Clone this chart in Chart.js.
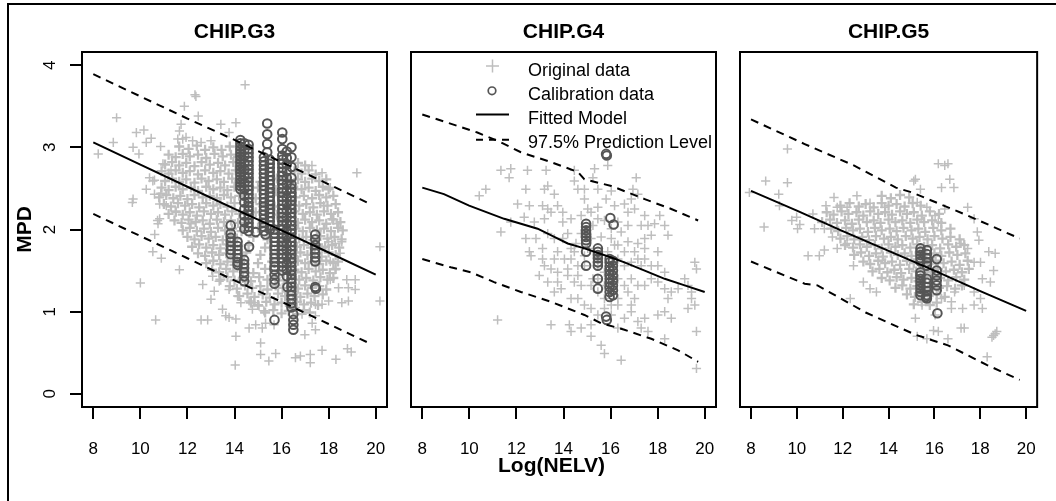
<!DOCTYPE html>
<html><head><meta charset="utf-8">
<script src="https://cdn.jsdelivr.net/npm/chart.js@4"></script>
<style>
html,body{margin:0;padding:0;background:#fff;}
#wrap{position:relative;width:1056px;height:501px;overflow:hidden;background:#fff;}
#frame{position:absolute;left:7px;top:3px;width:1100px;height:600px;border:2px solid #000;box-sizing:border-box;}
canvas{position:absolute;left:0;top:0;}
</style></head>
<body><div id="wrap"><div id="frame"></div>
<canvas id="c1" width="1056" height="501"></canvas>
<canvas id="c2" width="1056" height="501"></canvas>
<canvas id="c3" width="1056" height="501"></canvas>
</div>
<script>
// ---------- labels & ticks ----------
const panelNames = ['CHIP.G3', 'CHIP.G4', 'CHIP.G5'];
const xAxisLabel = 'Log(NELV)';
const yAxisLabel = 'MPD';
const legendLabels = ['Original data', 'Calibration data', 'Fitted Model', '97.5% Prediction Level'];
const xTicks = [8, 10, 12, 14, 16, 18, 20];
const yTicks = [0, 1, 2, 3, 4];
const xRange = [7.52, 20.48];
const yRange = [-0.16, 4.16];

// ---------- CHIP.G3 ----------
const g3OriginalSparse = [[14.45,3.76],[12.32,3.64],[12.36,3.62],[11.87,3.50],[12.46,3.38],[8.99,3.36],[9.83,3.18],[10.15,3.21],[8.85,3.06],[8.21,2.92],[9.69,3.00],[10.25,3.06],[10.46,3.11],[10.86,3.01],[9.94,2.92],[13.42,3.28],[14.06,3.30],[13.77,3.18],[13.00,3.08],[11.73,3.28],[11.66,3.20],[11.59,3.10],[11.80,3.10],[11.94,3.12],[12.22,3.08],[12.58,3.06],[17.29,2.78],[17.72,2.69],[19.20,2.69],[18.07,2.51],[17.79,2.29],[18.14,2.13],[18.35,2.07],[9.69,2.37],[9.66,2.33],[10.25,2.49],[10.39,2.63],[10.53,2.59],[10.96,2.80],[10.60,2.43],[10.82,2.31],[11.10,2.29],[11.52,2.21],[10.82,2.13],[10.75,2.07],[12.15,2.07],[10.73,2.11],[10.87,2.44],[10.60,2.60],[11.30,2.72],
[10.61,1.94],[10.53,1.73],[10.89,1.65],[11.66,1.51],[10.00,1.35],[10.65,0.90],[12.65,1.33],[13.07,1.43],[13.35,1.37],[13.14,1.25],[13.00,1.15],[13.77,1.27],[14.13,1.19],[14.27,1.11],[13.49,1.03],[13.77,0.93],[13.63,0.95],[14.06,0.91],[12.58,0.90],[12.86,0.90],[14.06,0.70],[14.62,0.80],[14.90,0.84],[15.18,0.80],[15.32,0.86],[15.11,0.62],[15.11,0.48],[15.46,0.40],[15.75,0.49],[14.03,0.35],[14.76,1.03],[15.04,1.07],[14.83,1.11],[14.62,1.13],[15.25,1.01],[15.68,0.84],[16.59,0.44],[16.80,0.46],[17.22,0.48],[17.22,0.38],[17.72,0.53],[18.31,0.42],[18.80,0.55],[18.96,0.51],[16.99,0.72],[17.44,0.78],[17.30,0.86],[17.44,0.95],[16.87,0.97],[16.59,1.05],[17.44,1.09],[17.72,1.09],[18.00,1.13],[18.56,1.11],[18.84,1.13],[18.42,1.29],[18.77,1.39],[19.13,1.39],[19.13,1.27],[18.84,1.29],[18.07,1.39],[18.28,1.51],[18.49,1.71],[18.28,1.83],[18.56,1.85],[20.18,1.79],[20.18,1.13],[18.00,1.85],[17.72,1.77],[18.07,1.61]];
const g3OriginalDense = [
[11.65,3.01],[12.05,2.98],[12.4,3.02],[12.75,2.97],[13.1,3.0],[13.45,2.97],[13.8,3.01],
[11.2,2.91],[11.5,2.88],[11.8,2.92],[12.1,2.89],[12.45,2.91],[12.8,2.87],[13.15,2.92],[13.5,2.89],[13.85,2.91],[14.15,2.88],
[11.05,2.79],[11.35,2.82],[11.65,2.78],[11.95,2.81],[12.3,2.77],[12.6,2.82],[12.95,2.79],[13.3,2.81],[13.6,2.78],[13.95,2.82],[14.3,2.79],[16.7,2.81],[17.0,2.78],
[10.9,2.71],[11.2,2.68],[11.5,2.72],[11.8,2.69],[12.1,2.71],[12.45,2.67],[12.75,2.72],[13.1,2.69],[13.4,2.71],[13.75,2.68],[14.05,2.72],[14.4,2.69],[16.55,2.71],[16.85,2.68],[17.15,2.72],[17.45,2.67],
[11.05,2.59],[11.35,2.62],[11.65,2.58],[11.95,2.61],[12.3,2.57],[12.6,2.62],[12.9,2.59],[13.25,2.61],[13.55,2.58],[13.9,2.62],[14.2,2.59],[14.6,2.61],[15.1,2.58],[15.8,2.62],[16.3,2.59],[16.7,2.61],[17.0,2.58],[17.3,2.62],[17.6,2.59],[17.9,2.61],
[10.9,2.51],[11.2,2.48],[11.5,2.52],[11.8,2.49],[12.15,2.51],[12.45,2.47],[12.8,2.52],[13.1,2.49],[13.4,2.51],[13.7,2.48],[14.0,2.52],[14.35,2.49],[15.0,2.51],[15.75,2.48],[16.5,2.52],[16.85,2.49],[17.15,2.51],[17.45,2.47],[17.75,2.52],[18.0,2.49],
[10.8,2.39],[11.1,2.42],[11.4,2.38],[11.7,2.41],[12.0,2.37],[12.3,2.42],[12.65,2.39],[12.95,2.41],[13.25,2.38],[13.55,2.42],[13.85,2.39],[14.2,2.41],[14.9,2.38],[15.85,2.42],[16.6,2.39],[16.95,2.41],[17.3,2.38],[17.6,2.42],[17.9,2.39],[18.2,2.41],
[11.0,2.31],[11.3,2.28],[11.6,2.32],[11.9,2.29],[12.2,2.31],[12.5,2.27],[12.8,2.32],[13.1,2.29],[13.4,2.31],[13.7,2.28],[14.0,2.32],[14.5,2.29],[15.1,2.31],[15.7,2.28],[16.4,2.32],[16.75,2.29],[17.05,2.31],[17.35,2.27],[17.65,2.32],[17.95,2.29],[18.3,2.31],
[11.2,2.19],[11.5,2.22],[11.8,2.18],[12.1,2.21],[12.4,2.17],[12.7,2.22],[13.0,2.19],[13.3,2.21],[13.6,2.18],[13.9,2.22],[14.2,2.19],[14.9,2.21],[15.8,2.18],[16.55,2.22],[16.9,2.19],[17.2,2.21],[17.5,2.18],[17.8,2.22],[18.1,2.19],[18.4,2.21],
[11.45,2.11],[11.75,2.08],[12.05,2.12],[12.35,2.09],[12.65,2.11],[12.95,2.07],[13.25,2.12],[13.55,2.09],[13.85,2.11],[14.15,2.08],[14.6,2.12],[15.2,2.09],[16.0,2.11],[16.7,2.08],[17.0,2.12],[17.3,2.09],[17.6,2.11],[17.9,2.07],[18.2,2.12],[18.5,2.09],
[11.8,1.99],[12.1,2.02],[12.4,1.98],[12.7,2.01],[13.0,1.97],[13.3,2.02],[13.6,1.99],[13.9,2.01],[14.3,1.98],[15.0,2.02],[15.8,1.99],[16.6,2.01],[16.9,1.98],[17.2,2.02],[17.5,1.99],[17.8,2.01],[18.1,1.98],[18.4,2.02],[18.6,1.99],
[12.0,1.91],[12.3,1.88],[12.6,1.92],[12.9,1.89],[13.2,1.91],[13.5,1.87],[13.8,1.92],[14.1,1.89],[14.8,1.91],[15.4,1.88],[16.2,1.92],[16.75,1.89],[17.05,1.91],[17.35,1.87],[17.65,1.92],[17.95,1.89],[18.25,1.91],[18.55,1.88],
[12.2,1.79],[12.5,1.82],[12.8,1.78],[13.1,1.81],[13.4,1.77],[13.7,1.82],[14.0,1.79],[14.6,1.81],[15.3,1.78],[16.0,1.82],[16.65,1.79],[16.95,1.81],[17.25,1.78],[17.55,1.82],[17.85,1.79],[18.15,1.81],[18.45,1.78],
[12.45,1.71],[12.75,1.68],[13.05,1.72],[13.35,1.69],[13.65,1.71],[13.95,1.67],[14.5,1.72],[15.1,1.69],[15.8,1.71],[16.5,1.68],[16.8,1.72],[17.1,1.69],[17.4,1.71],[17.7,1.67],[18.0,1.72],[18.3,1.69],
[12.8,1.59],[13.1,1.62],[13.4,1.58],[13.7,1.61],[14.0,1.57],[14.4,1.62],[15.0,1.59],[15.6,1.61],[16.3,1.58],[16.7,1.62],[17.0,1.59],[17.3,1.61],[17.6,1.58],[17.9,1.62],[18.2,1.59],[18.4,1.61],
[13.05,1.51],[13.35,1.48],[13.65,1.52],[13.95,1.49],[14.3,1.51],[14.8,1.47],[15.3,1.52],[15.9,1.49],[16.55,1.51],[16.85,1.48],[17.15,1.52],[17.45,1.49],[17.75,1.51],[18.05,1.47],[18.3,1.52],
[13.4,1.39],[13.7,1.42],[14.0,1.38],[14.35,1.41],[14.7,1.37],[15.05,1.42],[15.4,1.39],[15.75,1.41],[16.1,1.38],[16.45,1.42],[16.75,1.39],[17.05,1.41],[17.35,1.38],[17.65,1.42],[17.95,1.39],[18.2,1.41],
[13.8,1.31],[14.1,1.28],[14.45,1.32],[14.75,1.29],[15.1,1.31],[15.4,1.27],[15.75,1.32],[16.05,1.29],[16.4,1.31],[16.7,1.28],[17.0,1.32],[17.3,1.29],[17.6,1.31],[17.9,1.27],
[14.2,1.19],[14.55,1.22],[14.85,1.18],[15.2,1.21],[15.5,1.17],[15.85,1.22],[16.15,1.19],[16.5,1.21],[16.8,1.18],[17.1,1.22],[17.4,1.19],[17.75,1.21],
[14.7,1.11],[15.0,1.08],[15.35,1.12],[15.7,1.09],[16.0,1.11],[16.35,1.07],[16.65,1.12],[16.95,1.09],[17.25,1.11],[17.55,1.08],
[15.3,0.99],[15.65,1.02],[16.0,0.98],[16.3,1.01],[16.65,0.97],[16.95,1.02],[17.2,0.99]];
const g3Calibration = [
[14.25,3.09],[14.25,3.05],[14.25,3.01],[14.25,2.97],[14.25,2.93],[14.25,2.89],[14.25,2.85],[14.25,2.81],[14.25,2.77],[14.25,2.73],[14.25,2.69],[14.25,2.65],[14.25,2.61],[14.25,2.57],[14.25,2.53],[14.25,2.49],
[14.42,3.05],[14.42,2.97],[14.42,2.89],[14.42,2.81],[14.42,2.73],[14.42,2.65],[14.42,2.57],[14.42,2.49],[14.42,2.41],[14.42,2.33],[14.42,2.25],[14.42,2.17],[14.42,2.09],[14.42,2.01],
[14.6,3.03],[14.6,2.98],[14.6,2.93],[14.6,2.88],[14.6,2.83],[14.6,2.78],[14.6,2.73],[14.6,2.68],[14.6,2.63],[14.6,2.58],[14.6,2.53],[14.6,2.48],[14.6,2.43],[14.6,2.38],[14.6,2.33],[14.6,2.28],[14.6,2.23],[14.6,2.18],[14.6,2.13],[14.6,2.08],[14.6,2.03],[14.6,1.98],
[13.84,2.05],[13.84,1.95],[13.84,1.90],[13.84,1.85],[13.84,1.80],[13.84,1.75],[13.84,1.70],
[14.13,1.85],[14.13,1.80],[14.13,1.75],[14.13,1.70],[14.13,1.65],[14.13,1.60],[14.13,1.57],
[14.41,1.63],[14.41,1.58],[14.41,1.53],[14.41,1.48],[14.41,1.43],[14.41,1.37],
[14.62,1.79],[14.90,1.97],[15.32,1.94],
[15.39,3.29],[15.39,3.16],[15.39,3.04],[15.39,2.94],
[15.25,2.88],[15.25,2.83],[15.25,2.78],[15.25,2.73],[15.25,2.68],[15.25,2.63],[15.25,2.58],[15.25,2.53],[15.25,2.48],[15.25,2.43],[15.25,2.38],[15.25,2.33],[15.25,2.28],[15.25,2.23],[15.25,2.18],[15.25,2.13],[15.25,2.08],[15.25,2.03],[15.25,1.98],
[15.5,2.85],[15.5,2.80],[15.5,2.75],[15.5,2.70],[15.5,2.65],[15.5,2.60],[15.5,2.55],[15.5,2.50],[15.5,2.45],[15.5,2.40],[15.5,2.35],[15.5,2.30],[15.5,2.25],[15.5,2.20],[15.5,2.15],[15.5,2.10],[15.5,2.05],[15.5,2.00],
[15.7,2.0],[15.7,1.95],[15.7,1.9],[15.7,1.85],[15.7,1.8],[15.7,1.75],[15.7,1.7],[15.7,1.65],[15.7,1.6],[15.7,1.55],[15.7,1.51],[15.7,1.45],[15.7,1.39],[15.7,1.34],[15.70,0.90],
[16.03,3.18],[16.03,3.10],[16.03,2.98],[16.03,2.90],[16.03,2.85],[16.03,2.80],[16.03,2.75],[16.03,2.70],[16.03,2.65],[16.03,2.60],[16.03,2.55],[16.03,2.50],[16.03,2.45],[16.03,2.40],[16.03,2.35],[16.03,2.30],[16.03,2.25],[16.03,2.20],[16.03,2.15],[16.03,2.10],[16.03,2.05],[16.03,2.00],[16.03,1.95],[16.03,1.90],[16.03,1.85],[16.03,1.80],[16.03,1.75],[16.03,1.70],[16.03,1.65],[16.03,1.60],[16.03,1.55],[16.03,1.50],
[16.22,2.95],[16.22,2.87],[16.22,2.79],[16.22,2.71],[16.22,2.63],[16.22,2.55],[16.22,2.47],[16.22,2.39],[16.22,2.31],[16.22,2.23],[16.22,2.15],[16.22,2.07],[16.22,1.99],[16.22,1.91],[16.22,1.83],[16.22,1.75],[16.22,1.67],[16.22,1.59],[16.22,1.51],[16.22,1.43],
[16.42,3.00],[16.42,2.88],[16.42,2.76],[16.42,2.63],[16.42,2.55],[16.42,2.50],[16.42,2.45],[16.42,2.40],[16.42,2.35],[16.42,2.30],[16.42,2.25],[16.42,2.20],[16.42,2.15],[16.42,2.10],[16.42,2.05],[16.42,2.00],[16.42,1.95],[16.42,1.90],[16.42,1.85],[16.42,1.80],[16.42,1.75],[16.42,1.70],[16.42,1.65],[16.42,1.60],[16.42,1.55],[16.42,1.50],[16.42,1.45],[16.42,1.40],[16.42,1.35],[16.42,1.30],[16.42,1.25],[16.42,1.20],[16.42,1.15],[16.42,1.10],[16.42,1.05],
[16.5,0.97],[16.5,0.90],[16.5,0.84],[16.5,0.78],
[16.25,1.3],
[17.43,1.94],[17.43,1.88],[17.43,1.81],[17.43,1.76],[17.43,1.71],[17.43,1.66],[17.43,1.61],[17.43,1.30],[17.46,1.28]];
const g3Fit = [[8,3.06],[10,2.79],[12,2.52],[14,2.25],[16,1.99],[18,1.72],[20,1.45]];
const g3Upper = [[8,3.89],[10,3.62],[12,3.35],[14,3.09],[16,2.82],[18,2.55],[19.7,2.32]];
const g3Lower = [[8,2.19],[10,1.92],[12,1.65],[14,1.38],[16,1.12],[18,0.85],[19.7,0.62]];

// ---------- CHIP.G4 ----------
const g4Original = [[11.34,2.72],[11.76,2.74],[11.69,2.63],[12.47,2.72],[13.26,2.72],[14.46,2.72],[15.32,2.74],[15.25,2.63],[15.88,2.78],[17.09,2.63],
[10.42,2.41],[10.70,2.49],[12.40,2.49],[13.19,2.49],[13.33,2.53],[13.61,2.43],[14.46,2.59],[14.61,2.49],[14.89,2.49],[15.46,2.49],
[16.03,2.47],[16.95,2.49],[17.16,2.43],[16.88,2.37],[12.05,2.31],[12.55,2.29],[13.11,2.29],[13.33,2.25],[13.75,2.29],[13.97,2.21],
[14.89,2.37],[15.03,2.25],[15.46,2.27],[15.81,2.37],[16.17,2.29],[16.59,2.31],[17.02,2.25],[17.45,2.17],[18.09,2.17],[18.30,2.05],
[18.44,1.93],[17.87,2.07],[16.74,2.21],[11.34,1.97],[11.76,2.09],[12.33,2.15],[12.76,2.09],[13.19,2.13],[13.47,2.21],[13.97,2.09],
[14.32,2.13],[14.75,2.17],[15.25,2.05],[15.74,2.11],[16.31,2.09],[17.30,2.05],[17.59,2.05],[17.73,1.93],[12.83,1.89],[13.11,1.77],
[12.55,1.73],[12.40,1.89],[13.33,1.95],[13.61,1.89],[13.97,1.89],[14.18,1.95],[14.32,1.77],[14.53,1.83],[15.17,1.89],[15.60,1.91],
[16.03,1.89],[16.31,1.81],[16.74,1.85],[17.16,1.83],[17.45,1.77],[18.01,1.73],[17.45,1.64],[17.30,1.56],[16.88,1.60],[16.59,1.73],
[16.31,1.64],[12.62,1.68],[13.11,1.64],[13.61,1.64],[14.04,1.64],[14.46,1.73],[13.19,1.56],[13.47,1.52],[13.75,1.48],[14.18,1.52],
[14.61,1.56],[14.89,1.56],[12.97,1.44],[13.33,1.36],[13.75,1.36],[14.18,1.44],[14.46,1.36],[14.75,1.32],[15.17,1.32],[15.25,1.40],
[15.74,1.48],[15.46,1.24],[15.74,1.16],[16.03,1.08],[16.31,1.16],[16.74,1.24],[17.02,1.16],[17.16,1.32],[17.45,1.32],[17.73,1.40],
[18.01,1.36],[18.30,1.28],[18.44,1.16],[18.58,1.24],[18.87,1.28],[19.15,1.40],[19.29,1.32],[19.58,1.60],[19.65,1.52],[19.44,1.24],
[19.44,1.16],[19.29,1.04],[19.58,1.08],[13.61,1.24],[13.90,1.28],[14.32,1.16],[14.61,1.16],[14.89,1.08],[15.17,1.04],[15.46,0.96],
[16.03,0.96],[16.59,0.92],[16.88,1.00],[17.16,0.88],[17.45,0.92],[17.30,0.80],[16.31,0.80],[18.01,0.96],[18.30,1.00],[18.58,0.92],
[13.47,0.84],[14.25,0.84],[14.32,0.76],[14.75,0.80],[15.17,0.84],[15.17,0.70],[15.60,0.59],[15.74,0.49],[16.45,0.41],[17.59,0.76],
[18.30,0.67],[19.65,0.76],[19.65,0.31],[11.20,0.90],
[14.75,1.95],[15.03,1.77],[15.46,1.56],[15.88,1.73],[16.17,1.81],[16.59,1.56],[16.88,1.40],[16.31,1.40],[16.03,1.32],[16.59,1.32],[17.45,1.89],[17.16,1.64],[17.02,1.73],[17.73,1.56],[18.01,1.56],[18.30,1.48],[15.46,2.13],[15.17,2.21],[16.03,2.01],[16.45,1.97],[16.74,2.05],[14.32,1.64],[13.75,1.73],[14.89,1.68],[14.61,1.44],[15.46,1.40],[15.74,1.32],[16.31,1.08],[15.74,1.04],[16.88,1.08]];
const g4Calibration = [
[14.96,2.07],[14.96,2.03],[14.96,1.99],[14.96,1.95],[14.96,1.91],[14.96,1.87],[14.96,1.83],[14.96,1.73],[14.96,1.56],
[15.46,1.77],[15.46,1.73],[15.46,1.69],[15.46,1.65],[15.46,1.60],[15.46,1.56],[15.46,1.40],[15.46,1.28],
[15.96,1.64],[15.96,1.60],[15.96,1.55],[15.96,1.50],[15.96,1.45],[15.96,1.40],[15.96,1.35],[15.96,1.30],[15.96,1.24],[15.96,1.18],
[16.10,1.62],[16.10,1.56],[16.10,1.50],[16.10,1.44],[16.10,1.38],[16.10,1.32],[16.10,1.26],[16.10,1.20],
[15.81,2.92],[15.84,2.90],[15.99,2.14],[16.13,2.06],[15.81,0.94],[15.84,0.90]];
const g4Fit = [[8,2.51],[8.92,2.43],[9.99,2.29],[11.48,2.13],[12.90,2.01],[13.61,1.91],[14.18,1.83],[14.89,1.77],[16.03,1.66],[16.59,1.60],[17.45,1.50],[18.30,1.40],[19.15,1.32],[20,1.24]];
const g4Upper = [[8,3.40],[9.07,3.30],[10.34,3.18],[11.2,3.08],[12.19,2.94],[13.47,2.82],[14.61,2.70],[14.89,2.61],[16.03,2.53],[17.45,2.37],[18.58,2.25],[19.72,2.11]];
const g4Lower = [[8,1.64],[9.21,1.54],[10.06,1.48],[11.05,1.36],[12.19,1.24],[13.47,1.12],[14.89,0.96],[15.6,0.86],[16.59,0.78],[17.73,0.67],[18.87,0.53],[19.72,0.39]];

// ---------- CHIP.G5 ----------
const g5OriginalSparse = [[9.59,2.98],[8.64,2.59],[9.59,2.57],[7.93,2.45],[9.21,2.43],[9.24,2.29],[8.57,2.03],[9.99,2.15],[9.78,2.11],[10.13,2.06],[10.03,2.01],[10.49,1.68],[10.98,1.68],[11.62,2.39],[12.62,2.41],[13.19,2.32],[13.83,2.27],[10.70,2.19],[11.27,2.29],[11.76,2.27],[12.19,2.27],[10.77,2.01],[11.20,2.01],[11.55,1.91],[11.20,1.75],[11.76,1.77],[12.19,1.83],[12.47,1.56],[12.90,1.36],[12.33,1.16],[13.19,1.28],[13.47,1.24],[15.17,2.61],[15.10,2.59],[15.39,2.49],[16.31,2.51],[16.17,2.80],[16.59,2.80],[16.45,2.78],[16.67,2.61],[16.85,2.51],[15.25,2.33],[15.67,2.27],[16.03,2.17],[16.17,2.09],[16.45,2.25],[17.45,2.27],[17.87,1.97],[17.94,1.87],[17.73,2.13],[18.37,1.73],[18.65,1.71],[18.58,1.50],[18.44,1.36],[17.16,1.83],[17.45,1.77],[17.73,1.60],[18.01,1.60],[18.09,1.40],[17.73,1.24],[18.01,1.16],[17.73,1.08],[18.09,1.04],[17.23,1.04],[16.74,1.04],[17.16,0.80],[17.30,0.80],[16.59,0.67],[15.96,0.77],[15.25,0.70],[15.67,0.67],[16.17,0.76],[18.30,0.45],[18.58,0.71],[18.65,0.73],[18.51,0.69],[18.72,0.76],[15.17,0.92],[16.03,0.96],[15.46,1.08],[16.31,1.16],[16.74,1.12],[16.88,1.24],[17.30,1.32]];
const g5OriginalDense = [
[13.7,2.41],[14.1,2.38],[14.5,2.42],[14.9,2.39],
[11.9,2.29],[12.3,2.32],[12.7,2.28],[13.0,2.31],[13.35,2.27],[13.7,2.32],[14.0,2.29],[14.35,2.31],[14.7,2.28],[15.05,2.32],[15.4,2.29],
[11.3,2.21],[11.6,2.18],[11.95,2.22],[12.25,2.19],[12.6,2.21],[12.9,2.17],[13.2,2.22],[13.55,2.19],[13.85,2.21],[14.15,2.18],[14.5,2.22],[14.8,2.19],[15.1,2.21],[15.45,2.17],[15.8,2.22],[16.2,2.19],
[11.1,2.09],[11.45,2.12],[11.75,2.08],[12.1,2.11],[12.4,2.07],[12.7,2.12],[13.05,2.09],[13.35,2.11],[13.65,2.08],[14.0,2.12],[14.3,2.09],[14.6,2.11],[14.95,2.08],[15.25,2.12],[15.55,2.09],[15.9,2.11],[16.3,2.08],
[11.5,2.01],[11.8,1.98],[12.15,2.02],[12.45,1.99],[12.75,2.01],[13.1,1.97],[13.4,2.02],[13.7,1.99],[14.05,2.01],[14.35,1.98],[14.65,2.02],[15.0,1.99],[15.3,2.01],[15.6,1.97],[15.95,2.02],[16.3,1.99],[16.7,2.01],
[11.9,1.89],[12.2,1.92],[12.5,1.88],[12.85,1.91],[13.15,1.87],[13.45,1.92],[13.8,1.89],[14.1,1.91],[14.4,1.88],[14.75,1.92],[15.05,1.89],[15.35,1.91],[15.7,1.88],[16.0,1.92],[16.35,1.89],[16.7,1.91],[17.1,1.88],
[12.1,1.81],[12.45,1.78],[12.75,1.82],[13.05,1.79],[13.4,1.81],[13.7,1.77],[14.0,1.82],[14.3,1.79],[14.6,1.81],[14.95,1.78],[15.25,1.82],[15.55,1.79],[15.9,1.81],[16.25,1.77],[16.6,1.82],[16.95,1.79],[17.3,1.81],
[12.5,1.69],[12.8,1.72],[13.15,1.68],[13.45,1.71],[13.75,1.67],[14.1,1.72],[14.4,1.69],[14.7,1.71],[15.0,1.68],[15.35,1.72],[15.65,1.69],[16.0,1.71],[16.3,1.68],[16.65,1.72],[17.0,1.69],[17.35,1.71],
[12.9,1.61],[13.2,1.58],[13.55,1.62],[13.85,1.59],[14.15,1.61],[14.5,1.57],[14.8,1.62],[15.1,1.59],[15.45,1.61],[15.75,1.58],[16.05,1.62],[16.4,1.59],[16.75,1.61],[17.1,1.57],[17.45,1.62],
[13.3,1.49],[13.6,1.52],[13.95,1.48],[14.25,1.51],[14.55,1.47],[14.9,1.52],[15.2,1.49],[15.5,1.51],[15.85,1.48],[16.15,1.52],[16.5,1.49],[16.85,1.51],[17.2,1.48],[17.5,1.52],
[13.7,1.41],[14.05,1.38],[14.35,1.42],[14.65,1.39],[15.0,1.41],[15.3,1.37],[15.6,1.42],[15.95,1.39],[16.25,1.41],[16.6,1.38],[16.95,1.42],[17.3,1.39],
[14.3,1.29],[14.6,1.32],[14.95,1.28],[15.25,1.31],[15.55,1.27],[15.9,1.32],[16.2,1.29],[16.55,1.31],[16.9,1.28],[17.2,1.32],
[14.8,1.21],[15.15,1.18],[15.45,1.22],[15.75,1.19],[16.1,1.21],[16.45,1.18],
[15.1,1.09],[15.45,1.12],[15.8,1.08],[16.1,1.11]];
const g5Calibration = [
[15.39,1.77],[15.39,1.73],[15.39,1.69],[15.39,1.65],[15.39,1.61],[15.39,1.48],[15.39,1.44],[15.39,1.40],[15.39,1.36],[15.39,1.32],[15.39,1.28],[15.39,1.24],[15.39,1.20],
[15.67,1.75],[15.67,1.70],[15.67,1.65],[15.67,1.60],[15.67,1.56],[15.67,1.40],[15.67,1.35],[15.67,1.30],[15.67,1.25],[15.67,1.20],[15.67,1.16],
[16.10,1.64],[16.10,1.50],[16.10,1.44],[16.10,1.38],[16.10,1.32],[16.10,1.26],
[16.13,0.98],[15.63,1.18]];
const g5Fit = [[8,2.47],[10,2.23],[12,1.98],[14,1.74],[16,1.50],[18,1.25],[20,1.01]];
const g5Upper = [[8,3.34],[10.34,3.04],[12.48,2.78],[14.32,2.51],[15.03,2.45],[17.45,2.17],[19.72,1.89]];
const g5Lower = [[8,1.61],[10.34,1.34],[10.9,1.32],[13,0.99],[15.17,0.72],[16.59,0.59],[18.3,0.35],[19.72,0.17]];

// ---------- styling ----------
const FONT = '"Liberation Sans", Arial, Helvetica, sans-serif';
const origColor = '#bebebe';
const calColor = '#555555';
Chart.defaults.font.family = FONT;
Chart.defaults.color = '#000';

const toXY = a => a.map(p => ({x: p[0], y: p[1]}));

function drawLegend(ctx) {
  ctx.save();
  const base = [75.7, 99.8, 123.9, 148];
  ctx.font = '18px ' + FONT;
  ctx.fillStyle = '#000';
  ctx.textAlign = 'left';
  ctx.textBaseline = 'alphabetic';
  legendLabels.forEach((t, i) => ctx.fillText(t, 528, base[i]));
  ctx.strokeStyle = origColor; ctx.lineWidth = 1.5;
  ctx.beginPath(); ctx.moveTo(486, 66); ctx.lineTo(499, 66); ctx.moveTo(492.5, 59.5); ctx.lineTo(492.5, 72.5); ctx.stroke();
  ctx.strokeStyle = calColor; ctx.lineWidth = 1.7;
  ctx.beginPath(); ctx.arc(492, 90.8, 3.8, 0, Math.PI * 2); ctx.stroke();
  ctx.strokeStyle = '#000'; ctx.lineWidth = 2;
  ctx.beginPath(); ctx.moveTo(476, 114.5); ctx.lineTo(509, 114.5); ctx.stroke();
  ctx.setLineDash([7, 6]);
  ctx.beginPath(); ctx.moveTo(476, 139.7); ctx.lineTo(509, 139.7); ctx.stroke();
  ctx.restore();
}

const decorPlugin = {
  id: 'decor',
  beforeDatasetsDraw(chart, args, o) { if (o.legend) drawLegend(chart.ctx); },
  afterDatasetsDraw(chart, args, o) {
    const {ctx, chartArea: a} = chart;
    ctx.save();
    ctx.strokeStyle = '#000'; ctx.lineWidth = 2; ctx.setLineDash([]);
    ctx.strokeRect(a.left, a.top, a.right - a.left, a.bottom - a.top);
    ctx.font = 'bold 21px ' + FONT; ctx.fillStyle = '#000';
    ctx.textAlign = 'center'; ctx.textBaseline = 'middle';
    ctx.fillText(o.title, (a.left + a.right) / 2, 32);
    if (o.xlabel) ctx.fillText(o.xlabel, 551.5, 466);
    ctx.restore();
  }
};

function lineDs(pts, dash) {
  return {data: toXY(pts), showLine: true, borderColor: '#000', borderWidth: 2, borderDash: dash, pointRadius: 0, order: 0, clip: 0, tension: 0};
}

function makeDatasets(sparse, dense, cal, fit, up, lo) {
  return [
    lineDs(fit, []), lineDs(up, [8, 6]), lineDs(lo, [8, 6]),
    {data: toXY(cal), pointStyle: 'circle', pointRadius: 4.3, borderColor: calColor, backgroundColor: 'rgba(0,0,0,0)', borderWidth: 2, order: 1, clip: 0},
    {data: toXY(sparse), pointStyle: 'cross', pointRadius: 4.6, borderColor: origColor, backgroundColor: origColor, borderWidth: 1.5, order: 2, clip: 0},
    {data: toXY(dense), pointStyle: 'cross', pointRadius: 5, borderColor: origColor, backgroundColor: origColor, borderWidth: 2.3, order: 3, clip: 0}
  ];
}

function makeScales(showY) {
  const grid = {drawOnChartArea: false, drawTicks: true, tickLength: 12, color: '#000', lineWidth: 2};
  const y = {type: 'linear', display: showY, bounds: 'data', min: yRange[0], max: yRange[1],
      afterBuildTicks: s => { s.ticks = yTicks.map(v => ({value: v})); },
      ticks: {font: {size: 17}, color: '#000', padding: 15, minRotation: 90, maxRotation: 90, crossAlign: 'center', autoSkip: false},
      grid: grid, border: {display: false},
      title: {display: true, text: yAxisLabel, font: {size: 21, weight: 'bold'}, color: '#000', padding: {top: 12.4, bottom: 0}}};
  if (showY) y.afterFit = s => { s.width = 82; };
  return {
    x: {type: 'linear', bounds: 'data', min: xRange[0], max: xRange[1],
      afterBuildTicks: s => { s.ticks = xTicks.map(v => ({value: v})); },
      afterFit: s => { s.height = 94; },
      ticks: {font: {size: 17}, color: '#000', padding: 20, autoSkip: false, maxRotation: 0},
      grid: grid, border: {display: false}},
    y: y
  };
}

function makePanel(id, idx, pad, datasets, extra) {
  new Chart(document.getElementById(id), {
    type: 'scatter',
    data: {datasets: datasets},
    plugins: [decorPlugin],
    options: {
      responsive: false, animation: false, devicePixelRatio: 1, events: [],
      layout: {padding: {left: pad[0], right: pad[1], top: 52, bottom: 0}},
      scales: makeScales(idx === 0),
      plugins: {legend: {display: false}, tooltip: {enabled: false},
        decor: Object.assign({title: panelNames[idx]}, extra)}
    }
  });
}

makePanel('c1', 0, [0, 669], makeDatasets(g3OriginalSparse, g3OriginalDense, g3Calibration, g3Fit, g3Upper, g3Lower), {});
makePanel('c2', 1, [411, 340], makeDatasets(g4Original, [], g4Calibration, g4Fit, g4Upper, g4Lower), {legend: true, xlabel: xAxisLabel});
makePanel('c3', 2, [740, 11], makeDatasets(g5OriginalSparse, g5OriginalDense, g5Calibration, g5Fit, g5Upper, g5Lower), {});
</script>
</body></html>
